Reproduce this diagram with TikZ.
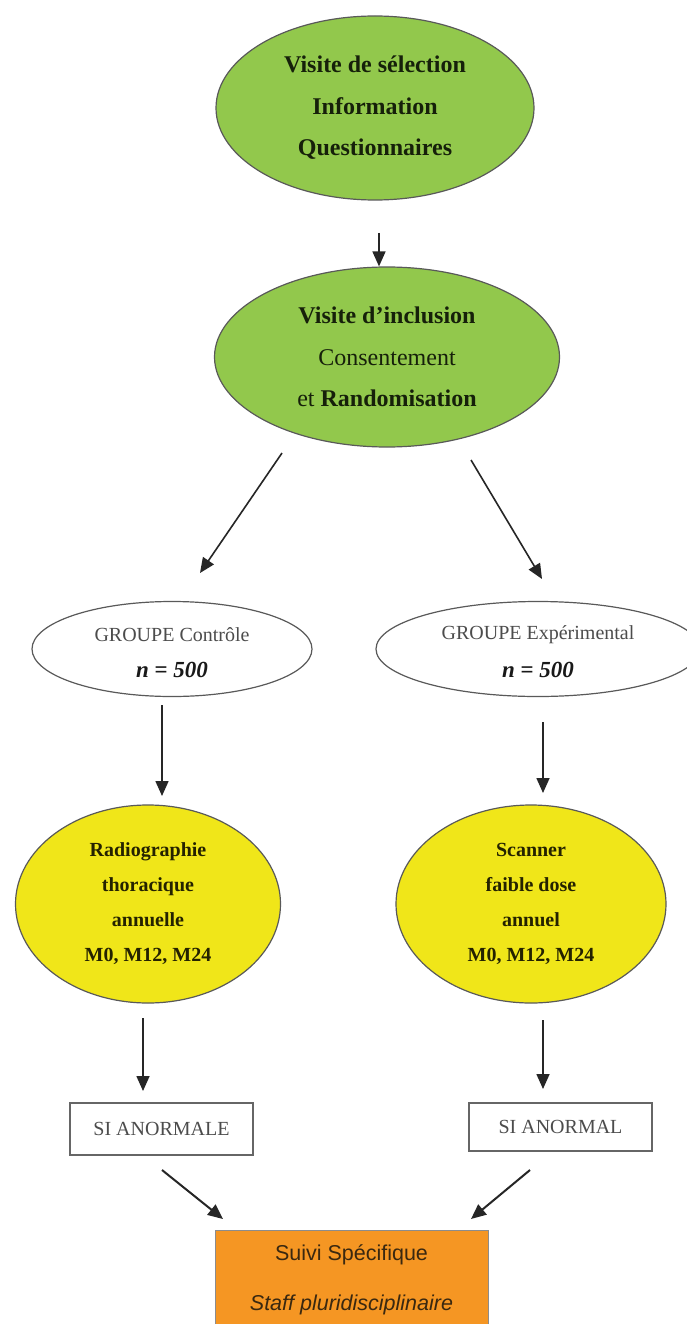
\documentclass[tikz,border=0pt]{standalone}
\usepackage{fontspec}
\setmainfont{Liberation Serif}
\newfontfamily\arialf{Liberation Sans}
\usetikzlibrary{shapes.geometric,arrows.meta}
\definecolor{gfill}{RGB}{146,200,76}
\definecolor{yfill}{RGB}{240,230,25}
\definecolor{ofill}{RGB}{245,150,35}
\definecolor{gtxt}{RGB}{22,32,10}
\definecolor{ytxt}{RGB}{36,34,0}
\definecolor{otxt}{RGB}{58,40,16}
\begin{document}
\begin{tikzpicture}[x=1pt,y=-1pt,
  arr/.style={draw=black!85, line width=1.6pt, -{Triangle[length=15pt,width=13pt]}},
  oval/.style={ellipse, draw=black!65, line width=1.2pt, inner sep=0pt},
  gtext/.style={align=center, text=gtxt, font=\fontsize{24}{41.5}\selectfont},
  grtext/.style={align=center, text=black!70, font=\fontsize{20}{37}\selectfont},
  ntext/.style={text=black!90, font=\bfseries\fontsize{23}{37}\selectfont},
  ytext/.style={align=center, text=ytxt, font=\bfseries\fontsize{20}{35}\selectfont},
  sibox/.style={draw=black!60, line width=1.2pt, fill=white, minimum width=183pt, text=black!70, font=\fontsize{20}{24}\selectfont},
  obox/.style={draw=black!45, line width=1pt, fill=ofill, minimum width=273pt, minimum height=100pt, align=center, text=otxt, font=\arialf\fontsize{21.5}{50}\selectfont}
]
\useasboundingbox (0,0) rectangle (687,1324);
\fill[white] (0,0) rectangle (687,1324);

% top ellipses
\node[oval, fill=gfill, minimum width=318pt, minimum height=184pt] (sel) at (375,108) {};
\node[gtext] (selt) at (sel) {\textbf{Visite de sélection}\\\textbf{Information}\\\textbf{Questionnaires}};

\node[oval, fill=gfill, minimum width=345pt, minimum height=180pt] (incl) at (387,357) {};
\node[gtext] (inclt) at (incl) {\textbf{Visite d’inclusion}\\Consentement\\et \textbf{Randomisation}};

% groups
\node[oval, fill=white, minimum width=280pt, minimum height=95pt] (gc) at (172,649) {};
\node[grtext] (gct) at (172,635) {GROUPE Contrôle};
\node[ntext] (gcn) at (172,670) {\itshape n\/ \upshape=\itshape\ 500};

\node[oval, fill=white, minimum width=324pt, minimum height=95pt] (ge) at (538,649) {};
\node[grtext] (get) at (538,635) {GROUPE Expérimental};
\node[ntext] (gen) at (538,670) {\itshape n\/ \upshape=\itshape\ 500};

% exams
\node[oval, fill=yfill, minimum width=265pt, minimum height=198pt] (rad) at (148,904) {};
\node[ytext] (radt) at (rad) {Radiographie\\thoracique\\annuelle\\M0, M12, M24};

\node[oval, fill=yfill, minimum width=270pt, minimum height=198pt] (scan) at (531,904) {};
\node[ytext] (scant) at (scan) {Scanner\\faible dose\\annuel\\M0, M12, M24};

% abnormal boxes
\node[sibox, minimum height=52pt] (sia) at (161.5,1129) {SI ANORMALE};
\node[sibox, minimum height=48pt] (sib) at (560.5,1127) {SI ANORMAL};

% follow-up
\node[obox] (suivi) at (351.5,1280) {Suivi Spécifique\\\itshape Staff pluridisciplinaire};

% connectors
\coordinate (a1) at (379,233);
\draw[arr] (a1) -- (a1 |- incl.north);

\coordinate (d1s) at (282,453);
\coordinate (d1e) at (200,573);
\draw[arr] (d1s) -- (d1e);
\coordinate (d2s) at (471,460);
\coordinate (d2e) at (542,579);
\draw[arr] (d2s) -- (d2e);

\coordinate (v1s) at (162,705);
\coordinate (v1e) at (162,796);
\draw[arr] (v1s) -- (v1e);
\coordinate (v2s) at (543,722);
\coordinate (v2e) at (543,793);
\draw[arr] (v2s) -- (v2e);

\coordinate (v3s) at (143,1018);
\coordinate (v3e) at (143,1091);
\draw[arr] (v3s) -- (v3e);
\coordinate (v4s) at (543,1020);
\coordinate (v4e) at (543,1089);
\draw[arr] (v4s) -- (v4e);

\coordinate (b1s) at (162,1170);
\coordinate (b1e) at (223,1219);
\draw[arr, line width=2pt] (b1s) -- (b1e);
\coordinate (b2s) at (530,1170);
\coordinate (b2e) at (471,1219);
\draw[arr, line width=2pt] (b2s) -- (b2e);
\end{tikzpicture}
\end{document}
